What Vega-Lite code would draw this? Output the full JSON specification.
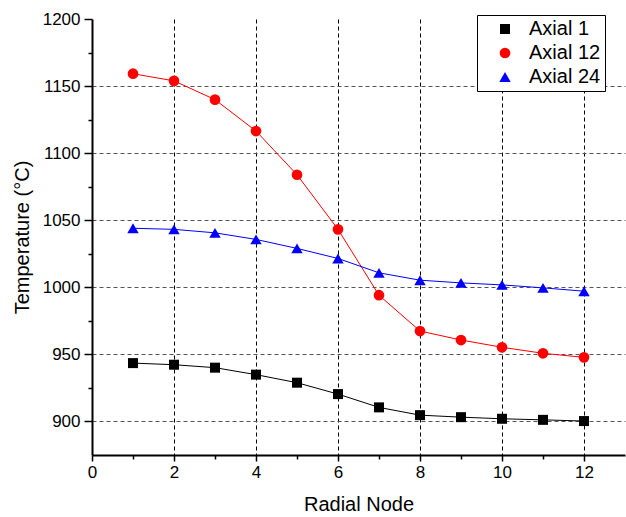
{
  "$schema": "https://vega.github.io/schema/vega-lite/v6.json",
  "width": 533,
  "height": 436,
  "autosize": {"type": "none"},
  "padding": {"left": 92, "top": 19, "right": 1, "bottom": 62},
  "config": {
    "view": {"stroke": null},
    "font": "Liberation Sans",
    "axis": {
      "domainColor": "#000000",
      "domainWidth": 2,
      "tickColor": "#000000",
      "tickWidth": 1.5,
      "labelColor": "#000000",
      "labelFontSize": 17,
      "labelFont": "Liberation Sans",
      "titleFont": "Liberation Sans",
      "titleFontSize": 20,
      "titleFontWeight": "normal",
      "titleColor": "#000000"
    },
    "legend": {
      "title": null,
      "orient": "none",
      "legendX": 385,
      "legendY": -4,
      "strokeColor": "#000000",
      "fillColor": "#ffffff",
      "padding": 4,
      "rowPadding": 4,
      "symbolOffset": 14,
      "symbolStrokeWidth": 0,
      "labelFontSize": 20,
      "labelFont": "Liberation Sans",
      "labelColor": "#000000",
      "labelOffset": 14
    }
  },
  "data": {
    "values": [
      {"node": 1, "temp": 943.5, "series": "Axial 1"},
      {"node": 2, "temp": 942.3, "series": "Axial 1"},
      {"node": 3, "temp": 940.1, "series": "Axial 1"},
      {"node": 4, "temp": 934.9, "series": "Axial 1"},
      {"node": 5, "temp": 928.9, "series": "Axial 1"},
      {"node": 6, "temp": 920.4, "series": "Axial 1"},
      {"node": 7, "temp": 910.5, "series": "Axial 1"},
      {"node": 8, "temp": 904.7, "series": "Axial 1"},
      {"node": 9, "temp": 903.2, "series": "Axial 1"},
      {"node": 10, "temp": 902.0, "series": "Axial 1"},
      {"node": 11, "temp": 901.2, "series": "Axial 1"},
      {"node": 12, "temp": 900.3, "series": "Axial 1"},
      {"node": 1, "temp": 1159.2, "series": "Axial 12"},
      {"node": 2, "temp": 1153.9, "series": "Axial 12"},
      {"node": 3, "temp": 1139.9, "series": "Axial 12"},
      {"node": 4, "temp": 1116.5, "series": "Axial 12"},
      {"node": 5, "temp": 1083.9, "series": "Axial 12"},
      {"node": 6, "temp": 1043.2, "series": "Axial 12"},
      {"node": 7, "temp": 994.1, "series": "Axial 12"},
      {"node": 8, "temp": 967.4, "series": "Axial 12"},
      {"node": 9, "temp": 960.7, "series": "Axial 12"},
      {"node": 10, "temp": 955.3, "series": "Axial 12"},
      {"node": 11, "temp": 950.8, "series": "Axial 12"},
      {"node": 12, "temp": 947.8, "series": "Axial 12"},
      {"node": 1, "temp": 1044.0, "series": "Axial 24"},
      {"node": 2, "temp": 1043.2, "series": "Axial 24"},
      {"node": 3, "temp": 1040.6, "series": "Axial 24"},
      {"node": 4, "temp": 1035.7, "series": "Axial 24"},
      {"node": 5, "temp": 1029.0, "series": "Axial 24"},
      {"node": 6, "temp": 1021.5, "series": "Axial 24"},
      {"node": 7, "temp": 1010.8, "series": "Axial 24"},
      {"node": 8, "temp": 1005.3, "series": "Axial 24"},
      {"node": 9, "temp": 1003.3, "series": "Axial 24"},
      {"node": 10, "temp": 1001.8, "series": "Axial 24"},
      {"node": 11, "temp": 999.6, "series": "Axial 24"},
      {"node": 12, "temp": 997.1, "series": "Axial 24"}
    ]
  },
  "encoding": {
    "x": {
      "field": "node",
      "type": "quantitative",
      "scale": {"domain": [0, 13], "nice": false},
      "axis": {
        "title": "Radial Node",
        "titlePadding": 14,
        "format": "d",
        "values": [0, 1, 2, 3, 4, 5, 6, 7, 8, 9, 10, 11, 12],
        "labelExpr": "datum.value % 2 === 0 ? datum.label : ''",
        "labelPadding": 3,
        "labelFlush": false,
        "tickSize": {"condition": {"test": "datum.value % 2 === 1", "value": 4}, "value": 6},
        "grid": true,
        "gridColor": "#000000",
        "gridDash": [4, 3],
        "gridWidth": 1,
        "gridOpacity": {"condition": {"test": "datum.value % 2 === 1 || datum.value === 0", "value": 0}, "value": 1}
      }
    },
    "y": {
      "field": "temp",
      "type": "quantitative",
      "scale": {"domain": [875, 1200], "nice": false, "zero": false},
      "axis": {
        "title": "Temperature (°C)",
        "titlePadding": 10,
        "format": "d",
        "values": [900, 925, 950, 975, 1000, 1025, 1050, 1075, 1100, 1125, 1150, 1175, 1200],
        "labelExpr": "datum.value % 50 === 0 ? datum.label : ''",
        "labelPadding": 4,
        "labelFlush": false,
        "tickSize": {"condition": {"test": "datum.value % 50 !== 0", "value": 4}, "value": 8},
        "grid": true,
        "gridColor": "#555555",
        "gridDash": [4, 3],
        "gridWidth": 1,
        "gridOpacity": {"condition": {"test": "datum.value % 50 !== 0 || datum.value === 1200", "value": 0}, "value": 1}
      }
    },
    "color": {
      "field": "series",
      "type": "nominal",
      "scale": {"domain": ["Axial 1", "Axial 12", "Axial 24"], "range": ["#000000", "#ff0000", "#0000ff"]}
    }
  },
  "layer": [
    {"mark": {"type": "line", "strokeWidth": 1}},
    {
      "mark": {"type": "point", "filled": true, "opacity": 1},
      "encoding": {
        "shape": {
          "field": "series",
          "type": "nominal",
          "scale": {"domain": ["Axial 1", "Axial 12", "Axial 24"], "range": ["square", "circle", "triangle-up"]}
        },
        "size": {
          "field": "series",
          "type": "nominal",
          "scale": {"domain": ["Axial 1", "Axial 12", "Axial 24"], "range": [100, 130, 160]}
        }
      }
    }
  ]
}
